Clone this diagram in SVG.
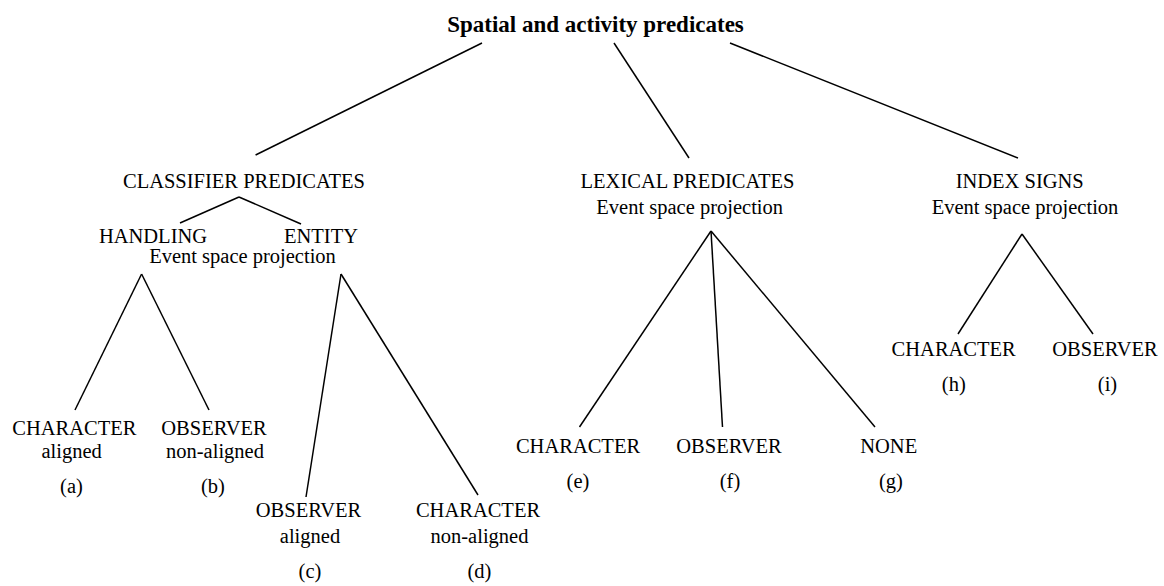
<svg xmlns="http://www.w3.org/2000/svg" width="1164" height="586" viewBox="0 0 1164 586">
<style>
text{font-family:"Liberation Serif","Times New Roman",serif;font-size:20.5px;fill:#000;text-anchor:middle}
.title{font-weight:bold;font-size:23px}
.conn line{stroke:#000;stroke-width:1.5;fill:none}
</style>
<rect width="1164" height="586" fill="#fff"/>
<g class="conn" id="connectors">
<line x1="482" y1="43" x2="255.6" y2="155"/>
<line x1="614" y1="43" x2="689" y2="158"/>
<line x1="730" y1="43" x2="1018" y2="158"/>
<line x1="239" y1="197" x2="180" y2="223"/>
<line x1="239" y1="197" x2="301" y2="224"/>
<line x1="141.6" y1="274" x2="75" y2="410"/>
<line x1="141.6" y1="274" x2="209" y2="410"/>
<line x1="341" y1="274" x2="306" y2="497"/>
<line x1="341" y1="274" x2="478" y2="495"/>
<line x1="711" y1="231" x2="579.5" y2="427"/>
<line x1="711" y1="231" x2="722.5" y2="427"/>
<line x1="711" y1="231" x2="875" y2="427"/>
<line x1="1022" y1="234" x2="958" y2="334"/>
<line x1="1022" y1="234" x2="1093" y2="334"/>
</g>
<g id="root"><text class="title" x="595.5" y="32">Spatial and activity predicates</text></g>
<g id="classifier"><text x="244" y="188">CLASSIFIER PREDICATES</text></g>
<g id="handling-entity">
<text x="153" y="243">HANDLING</text>
<text x="321" y="243">ENTITY</text>
<text x="242.5" y="263">Event space projection</text>
</g>
<g id="lexical"><text x="687.5" y="188">LEXICAL PREDICATES</text><text x="689.7" y="214">Event space projection</text></g>
<g id="index"><text x="1019.7" y="188">INDEX SIGNS</text><text x="1025" y="214">Event space projection</text></g>
<g id="a"><text x="74.3" y="435">CHARACTER</text><text x="71.7" y="458">aligned</text><text x="71.5" y="493">(a)</text></g>
<g id="b"><text x="214" y="435">OBSERVER</text><text x="215" y="458">non-aligned</text><text x="213" y="493">(b)</text></g>
<g id="c"><text x="308.5" y="517">OBSERVER</text><text x="310" y="543">aligned</text><text x="310" y="578">(c)</text></g>
<g id="d"><text x="478" y="517">CHARACTER</text><text x="479.5" y="543">non-aligned</text><text x="479.5" y="578">(d)</text></g>
<g id="e"><text x="578" y="453">CHARACTER</text><text x="578" y="488">(e)</text></g>
<g id="f"><text x="729" y="453">OBSERVER</text><text x="730" y="488">(f)</text></g>
<g id="g"><text x="888.7" y="453">NONE</text><text x="891" y="488">(g)</text></g>
<g id="h"><text x="953.7" y="356">CHARACTER</text><text x="953.8" y="391">(h)</text></g>
<g id="i"><text x="1105" y="356">OBSERVER</text><text x="1107.5" y="391">(i)</text></g>
</svg>
